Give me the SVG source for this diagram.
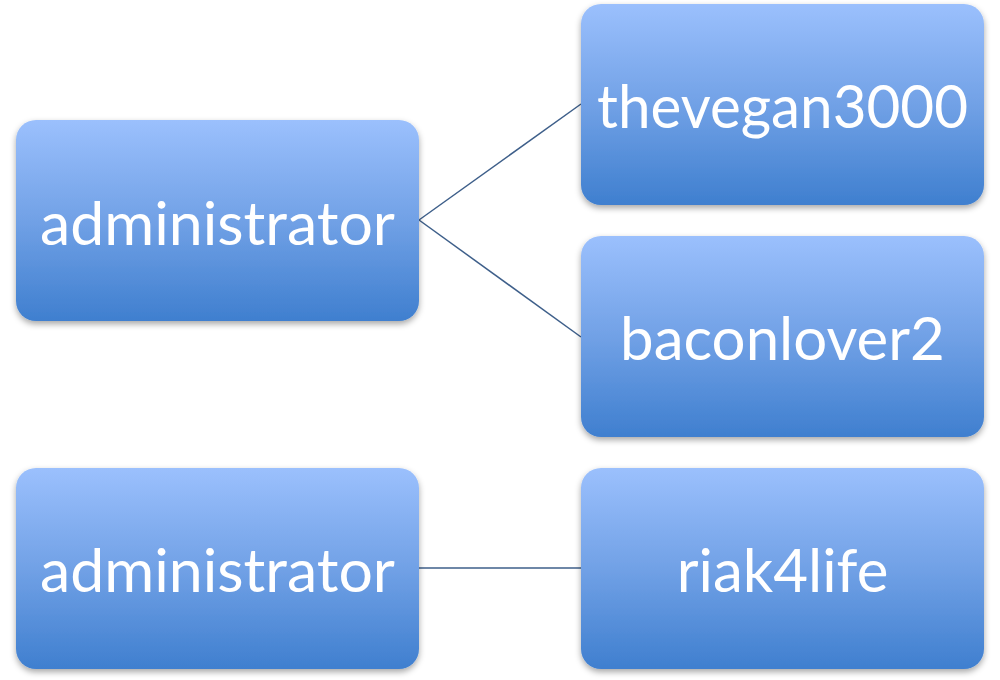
<svg xmlns="http://www.w3.org/2000/svg" width="1000" height="680" viewBox="0 0 1000 680">
<style>
.box{fill:url(#g);filter:url(#sh)}
.lbl{font-family:Lato,"Open Sans","Liberation Sans",sans-serif;font-size:60px;fill:#fff;text-anchor:middle}
.conn{stroke:#3e5f8a;stroke-width:1.5;fill:none}
</style>
<defs>
<linearGradient id="g" x1="0" y1="0" x2="0" y2="1">
<stop offset="0" stop-color="#9bc0fd"/>
<stop offset="0.5" stop-color="#71a1e6"/>
<stop offset="1" stop-color="#3f7fcf"/>
</linearGradient>
<filter id="sh" x="-10%" y="-10%" width="120%" height="125%">
<feDropShadow dx="0" dy="3" stdDeviation="3" flood-color="#000" flood-opacity="0.35"/>
</filter>
</defs>
<rect width="1000" height="680" fill="#fff"/>
<g id="connectors">
<line class="conn" x1="419" y1="220" x2="581" y2="104"/>
<line class="conn" x1="419" y1="220" x2="581" y2="337"/>
<line class="conn" x1="419" y1="568" x2="581" y2="568"/>
</g>
<g id="admin1">
<rect class="box" x="16" y="120" width="403" height="201" rx="20"/>
<text class="lbl" x="217.5" y="245" textLength="355" lengthAdjust="spacingAndGlyphs">administrator</text>
</g>
<g id="thevegan3000">
<rect class="box" x="581" y="4" width="403" height="201" rx="20"/>
<text class="lbl" x="782.5" y="128" textLength="371" lengthAdjust="spacingAndGlyphs">thevegan3000</text>
</g>
<g id="baconlover2">
<rect class="box" x="581" y="236" width="403" height="201" rx="20"/>
<text class="lbl" x="782.5" y="360">baconlover2</text>
</g>
<g id="admin2">
<rect class="box" x="16" y="468" width="403" height="201" rx="20"/>
<text class="lbl" x="217.5" y="592" textLength="355" lengthAdjust="spacingAndGlyphs">administrator</text>
</g>
<g id="riak4life">
<rect class="box" x="581" y="468" width="403" height="201" rx="20"/>
<text class="lbl" x="782.5" y="592">riak4life</text>
</g>
</svg>
